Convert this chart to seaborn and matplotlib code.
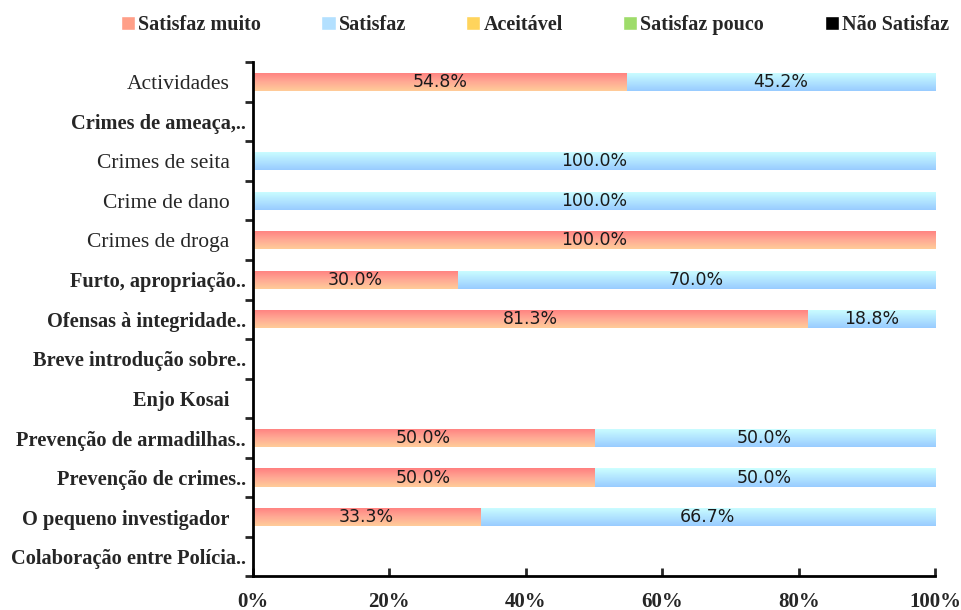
import numpy as np
import pandas as pd
import matplotlib
matplotlib.use("Agg")
import matplotlib.pyplot as plt
import matplotlib.transforms as mtransforms
import seaborn as sns
from matplotlib.patches import Patch

categories = ["Actividades", "Crimes de ameaça,..", "Crimes de seita", "Crime de dano",
              "Crimes de droga", "Furto, apropriação..", "Ofensas à integridade..",
              "Breve introdução sobre..", "Enjo Kosai", "Prevenção de armadilhas..",
              "Prevenção de crimes..", "O pequeno investigador", "Colaboração entre Polícia.."]
satisfaz_muito = [54.8, 0, 0, 0, 100.0, 30.0, 81.3, 0, 0, 50.0, 50.0, 33.3, 0]
satisfaz = [45.2, 0, 100.0, 100.0, 0, 70.0, 18.8, 0, 0, 50.0, 50.0, 66.7, 0]
bold_labels = [False, True, False, False, False, True, True, True, True, True, True, True, True]
legend_labels = ["Satisfaz muito", "Satisfaz", "Aceitável", "Satisfaz pouco", "Não Satisfaz"]
xticks = [0, 20, 40, 60, 80, 100]

df = pd.DataFrame({"cat": categories, "muito": satisfaz_muito, "satisfaz": satisfaz})
df["total"] = np.minimum(df["muito"] + df["satisfaz"], 100)

sns.set_style("white")
plt.rcParams["font.family"] = ["Liberation Serif", "DejaVu Serif"]

fig = plt.figure(figsize=(9.62, 6.10), dpi=100)
ax = fig.add_axes([0.263, 0.055, 0.709, 0.843])

BW = 0.46
sns.barplot(data=df, y="cat", x="total", orient="h", color="#a8d4ff", width=BW, ax=ax, errorbar=None)
n_blue = len(ax.patches)
sns.barplot(data=df, y="cat", x="muito", orient="h", color="#ff9f88", width=BW, ax=ax, errorbar=None)

xlim = (0, 100)
ylim = (len(categories) - 0.5, -0.5)

grad_red = [(1.0, 0.50, 0.50), (1.0, 0.66, 0.58), (1.0, 0.80, 0.60)]
grad_blue = [(0.80, 1.0, 1.0), (0.70, 0.90, 1.0), (0.60, 0.80, 1.0)]

def grad_img(cols, n=40):
    cols = np.array(cols)
    t = np.linspace(0, 1, n)
    pos = np.linspace(0, 1, len(cols))
    img = np.stack([np.interp(t, pos, cols[:, k]) for k in range(3)], axis=-1)
    return img[:, None, :]

for i, p in enumerate(list(ax.patches)):
    w = p.get_width()
    if w <= 0:
        continue
    x0, y0, h = p.get_x(), p.get_y(), p.get_height()
    cols = grad_blue if i < n_blue else grad_red
    p.set_facecolor("none")
    p.set_edgecolor("none")
    im = ax.imshow(grad_img(cols), extent=(x0, x0 + w, y0 + h, y0), origin="upper",
                   aspect="auto", interpolation="bilinear", zorder=p.get_zorder())
    im.set_clip_path(p)

ax.set_xlim(*xlim)
ax.set_ylim(*ylim)

# data labels
for i, (m, s) in enumerate(zip(satisfaz_muito, satisfaz)):
    if m > 0:
        ax.text(m / 2, i, f"{m:.1f}%", ha="center", va="center", fontsize=12.5,
                family="DejaVu Sans", color="#1a1a1a", zorder=5)
    if s > 0:
        ax.text(m + min(s, 100 - m) / 2, i, f"{s:.1f}%", ha="center", va="center", fontsize=12.5,
                family="DejaVu Sans", color="#1a1a1a", zorder=5)

ax.set_xlabel("")
ax.set_ylabel("")
for sp in ["top", "right"]:
    ax.spines[sp].set_visible(False)
for sp in ["left", "bottom"]:
    ax.spines[sp].set_color("black")
    ax.spines[sp].set_linewidth(2)

ax.set_xticks(xticks)
ax.set_xticklabels([f"{v}%" for v in xticks], fontsize=15, fontweight="bold")
ax.tick_params(axis="x", direction="in", length=6, width=2, pad=11, bottom=True)

ax.set_yticks(range(len(categories)))
ax.set_yticklabels(categories)
ax.tick_params(axis="y", which="major", length=0, pad=5)
shift = mtransforms.ScaledTranslation(-12 / 72, 0, fig.dpi_scale_trans)
for lbl, b, name in zip(ax.get_yticklabels(), bold_labels, categories):
    if b:
        lbl.set_fontweight("bold")
        lbl.set_fontsize(14.7)
    else:
        lbl.set_fontsize(15.5)
    if not name.endswith(".."):
        lbl.set_transform(lbl.get_transform() + shift)
ax.set_yticks(np.arange(-0.5, len(categories), 1), minor=True)
ax.tick_params(axis="y", which="minor", direction="out", length=6, width=2, left=True)

handles = [Patch(facecolor="#ff9f88"), Patch(facecolor="#b3e0ff"), Patch(facecolor="#ffd45c"),
           Patch(facecolor="#9edc6a"), Patch(facecolor="black")]
fig.legend(handles, legend_labels, loc="center", bbox_to_anchor=(0.556, 0.959), ncol=5,
           frameon=False, prop={"family": "Liberation Serif", "weight": "bold", "size": 14.5},
           handlelength=0.7, handleheight=0.7, handletextpad=0.15, columnspacing=3.0)

fig.savefig("out.png", dpi=100)
